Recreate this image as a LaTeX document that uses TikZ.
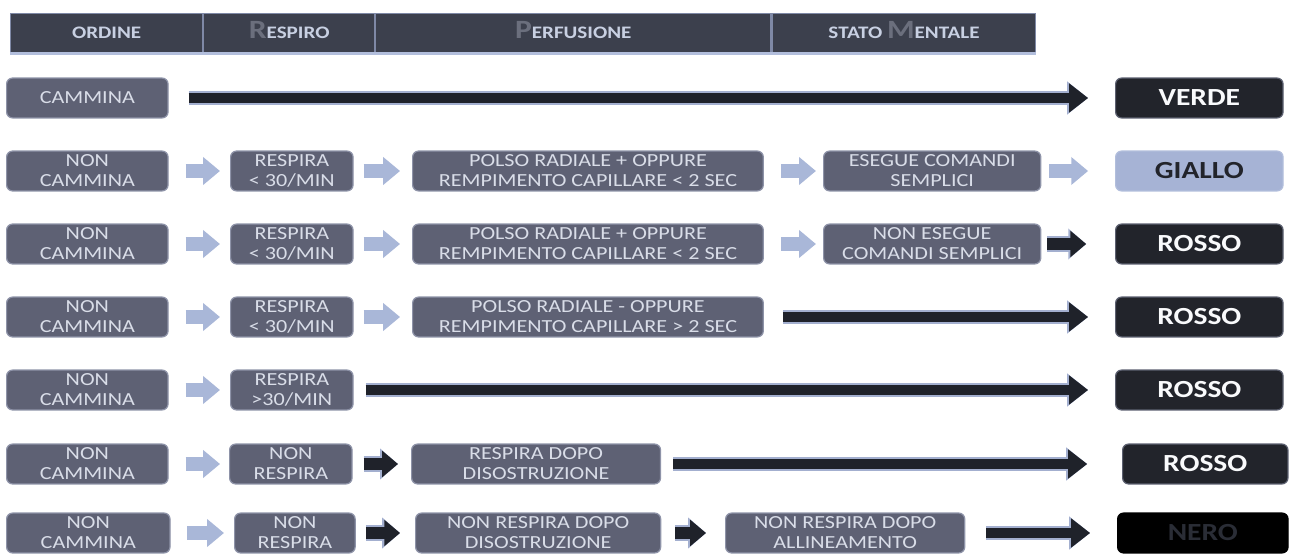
\documentclass[tikz,border=0pt]{standalone}
\usepackage{fontspec}
\setmainfont{Carlito}[FakeStretch=1.2]
\usetikzlibrary{arrows.meta}
\definecolor{hdr}{HTML}{3C404D}
\definecolor{hdrline}{HTML}{7F89A6}
\definecolor{hdredge}{HTML}{B2BEDC}
\definecolor{hdrtext}{HTML}{C8D0E2}
\definecolor{hdrcap}{HTML}{6B6F7D}
\definecolor{boxfill}{HTML}{5E6174}
\definecolor{boxline}{HTML}{8E93A8}
\definecolor{boxtext}{HTML}{D9DDE8}
\definecolor{tridark}{HTML}{22242B}
\definecolor{triline}{HTML}{5C6070}
\definecolor{trilite}{HTML}{A6B3D5}
\definecolor{arrlite}{HTML}{A9B7D8}
\definecolor{arrdark}{HTML}{1F222A}
\definecolor{arredge}{HTML}{A3AFCF}
\newcommand{\initcap}[1]{{\fontsize{15}{16}\selectfont\color{hdrcap}#1}}

\begin{document}
\begin{tikzpicture}[x=0.02cm,y=-0.02cm,
  headcell/.style={draw=hdrline,line width=0.6pt,fill=hdr,anchor=west,minimum height=22.7pt,inner sep=0pt,text height=7.4pt,text depth=1pt,text=hdrtext,font=\bfseries\fontsize{10}{12}\selectfont},
  cellbox/.style={draw=boxline,line width=0.7pt,fill=boxfill,rounded corners=3.4pt,anchor=west,minimum height=22.7pt,inner sep=0pt,align=center,text=boxtext,font=\fontsize{10.5}{11.3}\selectfont},
  triagebox/.style={cellbox,draw=triline,fill=tridark,text=white!90!hdrtext,font=\bfseries\fontsize{14}{16}\selectfont,minimum width=95.3pt},
  litearr/.style={draw=arrlite,line width=8.5pt,-{Triangle[length=9.6pt,width=15.3pt]}},
  darkarr/.style={draw=arrdark,line width=7pt,-{Triangle[length=9pt,width=14.5pt]},preaction={draw=arredge,line width=8.6pt,-{Triangle[length=10.2pt,width=17pt]}}},
  longarr/.style={draw=arrdark,line width=5.7pt,-{Triangle[length=10.8pt,width=15.9pt]},preaction={draw=arredge,line width=7.6pt,-{Triangle[length=12pt,width=18.2pt]}}}]
\useasboundingbox (0,0) rectangle (1289,554);
% header
\node [headcell,minimum width=109.4pt] (h1) at (10,33) {ORDINE};
\node [headcell,minimum width=97.5pt] (h2) at (203,33) {\initcap{R}ESPIRO};
\node [headcell,minimum width=225.1pt] (h3) at (375,33) {\initcap{P}ERFUSIONE};
\node [headcell,minimum width=149.7pt] (h4) at (772,33) {STATO \initcap{M}ENTALE};
\draw [hdredge,line width=1.4pt] (h1.south west) -- (h4.south east);
% row 1
\node [cellbox,minimum width=91.9pt] (o1) at (6,98) {CAMMINA};
\node [triagebox] (t1) at (1115,98) {VERDE};
\draw [longarr,shorten <=11.3pt,shorten >=15.3pt] (o1) -- (t1);
% row 2
\node [cellbox,minimum width=91.9pt] (o2) at (6,171) {NON\\CAMMINA};
\node [cellbox,minimum width=69.7pt] (r2) at (230,171) {RESPIRA\\< 30/MIN};
\node [cellbox,minimum width=199.6pt] (p2) at (412,171) {POLSO RADIALE + OPPURE\\REMPIMENTO CAPILLARE < 2 SEC};
\node [cellbox,minimum width=123.6pt] (m2) at (823,171) {ESEGUE COMANDI\\SEMPLICI};
\node [triagebox,draw=hdredge,fill=trilite,text=tridark] (t2) at (1115,171) {GIALLO};
\draw [litearr,shorten <=9.6pt,shorten >=5.7pt] (o2) -- (r2);
\draw [litearr,shorten <=5.7pt,shorten >=6.8pt] (r2) -- (p2);
\draw [litearr,shorten <=9.6pt,shorten >=4pt] (p2) -- (m2);
\draw [litearr,shorten <=4.5pt,shorten >=15.3pt] (m2) -- (t2);
% row 3
\node [cellbox,minimum width=91.9pt] (o3) at (6,244) {NON\\CAMMINA};
\node [cellbox,minimum width=69.7pt] (r3) at (230,244) {RESPIRA\\< 30/MIN};
\node [cellbox,minimum width=199.6pt] (p3) at (412,244) {POLSO RADIALE + OPPURE\\REMPIMENTO CAPILLARE < 2 SEC};
\node [cellbox,minimum width=123.6pt] (m3) at (823,244) {NON ESEGUE\\COMANDI SEMPLICI};
\node [triagebox] (t3) at (1115,244) {ROSSO};
\draw [litearr,shorten <=9.6pt,shorten >=5.7pt] (o3) -- (r3);
\draw [litearr,shorten <=5.7pt,shorten >=6.8pt] (r3) -- (p3);
\draw [litearr,shorten <=9.6pt,shorten >=4pt] (p3) -- (m3);
\draw [darkarr,shorten <=3.4pt,shorten >=16.4pt] (m3) -- (t3);
% row 4
\node [cellbox,minimum width=91.9pt] (o4) at (6,317) {NON\\CAMMINA};
\node [cellbox,minimum width=69.7pt] (r4) at (230,317) {RESPIRA\\< 30/MIN};
\node [cellbox,minimum width=199.6pt] (p4) at (412,317) {POLSO RADIALE - OPPURE\\REMPIMENTO CAPILLARE > 2 SEC};
\node [triagebox] (t4) at (1115,317) {ROSSO};
\draw [litearr,shorten <=9.6pt,shorten >=5.7pt] (o4) -- (r4);
\draw [litearr,shorten <=5.7pt,shorten >=6.8pt] (r4) -- (p4);
\draw [longarr,shorten <=10.8pt,shorten >=15.3pt] (p4) -- (t4);
% row 5
\node [cellbox,minimum width=91.9pt] (o5) at (6,390) {NON\\CAMMINA};
\node [cellbox,minimum width=69.7pt] (r5) at (230,390) {RESPIRA\\>30/MIN};
\node [triagebox] (t5) at (1115,390) {ROSSO};
\draw [litearr,shorten <=9.6pt,shorten >=5.7pt] (o5) -- (r5);
\draw [longarr,shorten <=6.8pt,shorten >=15.3pt] (r5) -- (t5);
% row 6
\node [cellbox,minimum width=91.9pt] (o6) at (6,464) {NON\\CAMMINA};
\node [cellbox,minimum width=69.7pt] (r6) at (229,464) {NON\\RESPIRA};
\node [cellbox,minimum width=141.7pt] (p6) at (411,464) {RESPIRA DOPO\\DISOSTRUZIONE};
\node [triagebox,minimum width=94.1pt] (t6) at (1122,464) {ROSSO};
\draw [litearr,shorten <=9.6pt,shorten >=5.1pt] (o6) -- (r6);
\draw [darkarr,shorten <=6.2pt,shorten >=7.4pt] (r6) -- (p6);
\draw [longarr,shorten <=6.8pt,shorten >=19.8pt] (p6) -- (t6);
% row 7
\node [cellbox,minimum width=93pt] (o7) at (6,533) {NON\\CAMMINA};
\node [cellbox,minimum width=68.6pt] (r7) at (234,533) {NON\\RESPIRA};
\node [cellbox,minimum width=139.5pt] (p7) at (415,533) {NON RESPIRA DOPO\\DISOSTRUZIONE};
\node [cellbox,minimum width=136.1pt] (m7) at (725,533) {NON RESPIRA DOPO\\ALLINEAMENTO};
\node [triagebox,minimum width=97pt,fill=black,draw=black,text=hdr!70!black] (t7) at (1117,533) {NERO};
\draw [litearr,shorten <=9.6pt,shorten >=5.7pt] (o7) -- (r7);
\draw [darkarr,shorten <=5.7pt,shorten >=8.5pt] (r7) -- (p7);
\draw [darkarr,shorten <=7.9pt,shorten >=10.8pt] (p7) -- (m7);
\draw [longarr,shorten <=11.9pt,shorten >=15.3pt] (m7) -- (t7);
\end{tikzpicture}
\end{document}
